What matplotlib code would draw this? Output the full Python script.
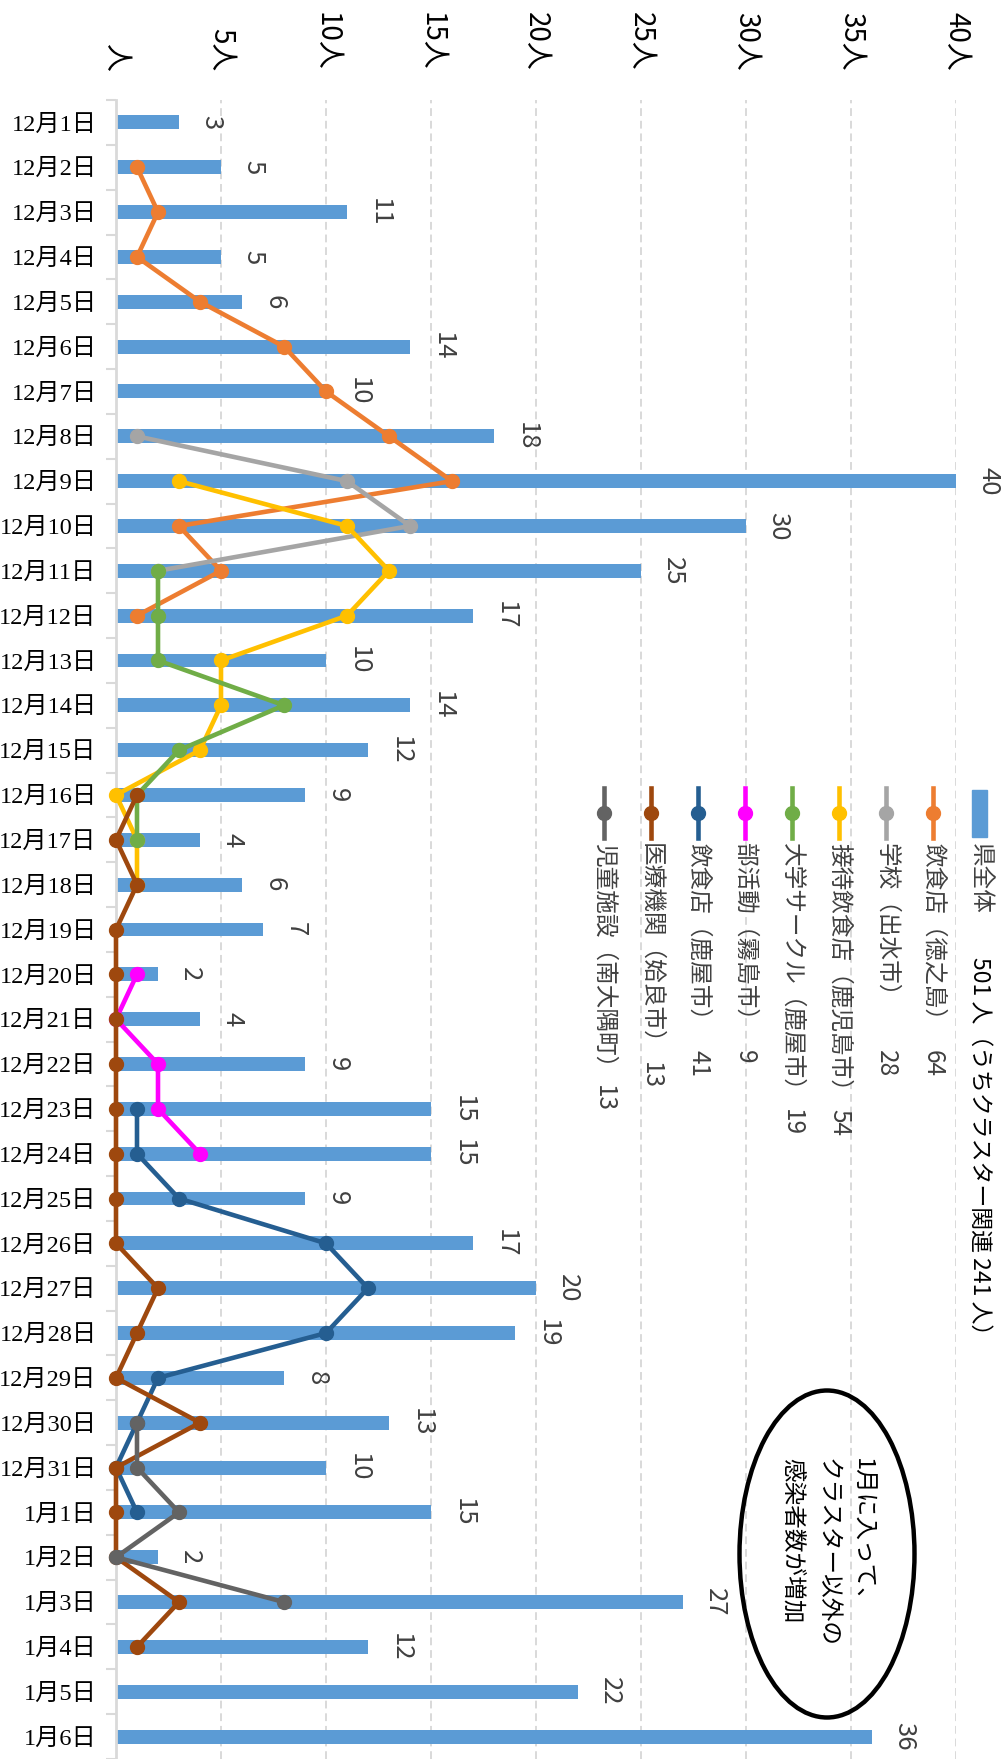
import matplotlib
matplotlib.use('Agg')
import matplotlib.pyplot as plt
from matplotlib.patches import Ellipse, Rectangle
from matplotlib.lines import Line2D
import numpy as np

plt.rcParams['font.family'] = ['Noto Sans CJK JP', 'DejaVu Sans']

W, H = 1005, 1759

dates = [f'12月{d}日' for d in range(1, 32)] + [f'1月{d}日' for d in range(1, 7)]
total = [3, 5, 11, 5, 6, 14, 10, 18, 40, 30, 25, 17, 10, 14, 12, 9, 4, 6, 7, 2,
         4, 9, 15, 15, 9, 17, 20, 19, 8, 13, 10, 15, 2, 27, 12, 22, 36]

# each cluster: first date index and daily counts from there on
tokunoshima_start, tokunoshima = 1, [1, 2, 1, 4, 8, 10, 13, 16, 3, 5, 1]
izumi_start, izumi = 7, [1, 11, 14, 2]
kagoshima_start, kagoshima = 8, [3, 11, 13, 11, 5, 5, 4, 0, 1, 1]
kanoya_univ_start, kanoya_univ = 10, [2, 2, 2, 8, 3, 1, 1]
kirishima_start, kirishima = 19, [1, 0, 2, 2, 4]
kanoya_rest_start, kanoya_rest = 22, [1, 1, 3, 10, 12, 10, 2, 1, 0, 1]
aira_start, aira = 15, [1, 0, 1, 0, 0, 0, 0, 0, 0, 0, 0, 2, 1, 0, 4, 0, 0, 0, 3, 1]
minamiosumi_start, minamiosumi = 29, [1, 1, 3, 0, 8]

series = [
    ('飲食店（徳之島）', 64, '#ED7D31', tokunoshima_start, tokunoshima),
    ('学校（出水市）', 28, '#A5A5A5', izumi_start, izumi),
    ('接待飲食店（鹿児島市）', 54, '#FFC000', kagoshima_start, kagoshima),
    ('大学サークル（鹿屋市）', 19, '#70AD47', kanoya_univ_start, kanoya_univ),
    ('部活動（霧島市）', 9, '#FF00FF', kirishima_start, kirishima),
    ('飲食店（鹿屋市）', 41, '#255E91', kanoya_rest_start, kanoya_rest),
    ('医療機関（姶良市）', 13, '#9E480E', aira_start, aira),
    ('児童施設（南大隅町）', 13, '#636363', minamiosumi_start, minamiosumi),
]

value_ticks = [0, 5, 10, 15, 20, 25, 30, 35, 40]
value_ticklabels = ['人'] + [f'{v}人' for v in value_ticks[1:]]
note = '1月に入って、\nクラスター以外の\n感染者数が増加'


def fx(px):
    return px / W


def fy(py):
    return 1 - py / H


fig = plt.figure(figsize=(W / 100, H / 100), dpi=100)
ax = fig.add_axes([fx(116), 0, 840 / W, 1 - 100 / H])

ypos = np.arange(len(dates))
ax.barh(ypos, total, height=0.31, color='#5B9BD5', zorder=2)

for i, (name, cnt, col, start, vals) in enumerate(series):
    yy = np.arange(start, start + len(vals))
    ax.plot(vals, yy, color=col, lw=3.3, marker='o', ms=10, clip_on=False, zorder=3 + i)

for i, v in enumerate(total):
    ax.annotate(str(v), xy=(v, i), xytext=(14, 0), textcoords='offset points',
                rotation=-90, ha='left', va='center', fontsize=18.5, color='#404040',
                annotation_clip=False)

ax.set_xlim(0, 40)
ax.set_ylim(36.37, -0.5)
ax.set_xticks(value_ticks)
ax.set_xticklabels(value_ticklabels)
ax.xaxis.tick_top()
ax.tick_params(axis='x', length=0, pad=21, labelsize=20)
for lbl in ax.get_xticklabels():
    lbl.set_rotation(-90)
    lbl.set_va('bottom')
ax.grid(axis='x', color='#D9D9D9', linestyle=(0, (4, 2.5)), lw=1.4, zorder=0)

ax.set_yticks(ypos)
ax.set_yticklabels(dates)
for lbl in ax.get_yticklabels():
    lbl.set_family(['Liberation Serif', 'Noto Sans CJK JP'])
    lbl.set_fontsize(17.5)
ax.tick_params(axis='y', length=0, pad=14)
ax.set_yticks(np.arange(-0.5, len(dates), 1), minor=True)
ax.tick_params(axis='y', which='minor', length=7, width=1.5, color='#D9D9D9')

for s in ['top', 'right', 'bottom']:
    ax.spines[s].set_visible(False)
ax.spines['left'].set_color('#D9D9D9')
ax.spines['left'].set_linewidth(2)

# legend, drawn turned like the rest of the chart
fig.add_artist(Rectangle((fx(972), fy(837)), 15 / W, 47 / H, transform=fig.transFigure,
                         color='#5B9BD5'))
fig.text(fx(980), fy(843), '県全体', rotation=-90, ha='center', va='top', fontsize=17,
         color='#404040')
fig.text(fx(980), fy(957), '501 人（うちクラスター関連 241 人）', rotation=-90, ha='center',
         va='top', fontsize=16.5, color='black')

renderer = fig.canvas.get_renderer()
for i, (name, cnt, col, start, vals) in enumerate(series):
    x = 933 - 47 * i
    fig.add_artist(Line2D([fx(x), fx(x)], [fy(788), fy(838)], transform=fig.transFigure,
                          color=col, lw=3.3))
    fig.add_artist(Line2D([fx(x)], [fy(813)], transform=fig.transFigure, color=col,
                          marker='o', ms=10))
    t = fig.text(fx(x), fy(843), name, rotation=-90, ha='center', va='top', fontsize=17,
                 color='#404040')
    end = H - t.get_window_extent(renderer).y0
    fig.text(fx(x), fy(max(end + 6, 1050)), str(cnt), rotation=-90, ha='center', va='top',
             fontsize=17.5, color='#404040')

fig.add_artist(Ellipse((fx(827), fy(1554)), 175 / W, 327 / H, transform=fig.transFigure,
                       fill=False, ec='black', lw=3.2))
fig.text(fx(827), fy(1553), note, rotation=-90, ha='center', va='center',
         multialignment='left', fontsize=17, linespacing=1.65)

fig.savefig('out.png', dpi=100)
